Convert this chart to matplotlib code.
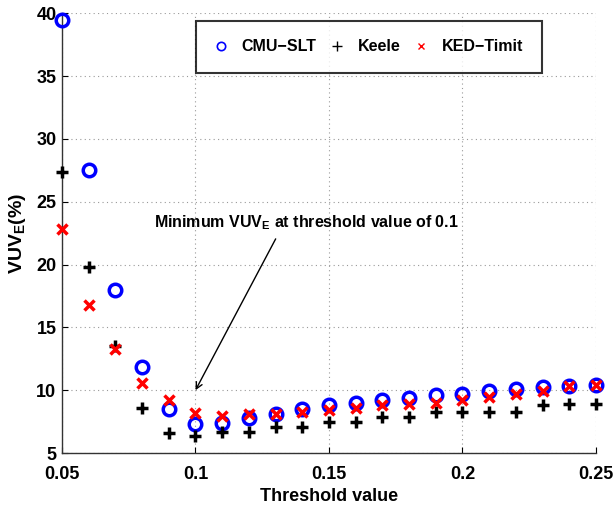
import matplotlib
matplotlib.use('Agg')
import matplotlib.pyplot as plt
from matplotlib.lines import Line2D

plt.rcParams['font.family'] = ['Liberation Sans', 'DejaVu Sans']
plt.rcParams['font.weight'] = 'bold'
plt.rcParams['mathtext.fontset'] = 'custom'
plt.rcParams['mathtext.bf'] = 'Liberation Sans:bold'
plt.rcParams['mathtext.rm'] = 'Liberation Sans:bold'
plt.rcParams['mathtext.default'] = 'bf'

# threshold values
thresholds = [0.05, 0.06, 0.07, 0.08, 0.09, 0.10, 0.11, 0.12, 0.13, 0.14, 0.15,
              0.16, 0.17, 0.18, 0.19, 0.20, 0.21, 0.22, 0.23, 0.24, 0.25]

cmu_slt = [39.5, 27.5, 18.0, 11.85, 8.5, 7.3, 7.4, 7.75, 8.1, 8.5, 8.8,
           9.0, 9.2, 9.4, 9.6, 9.7, 9.9, 10.1, 10.25, 10.3, 10.45]
keele = [27.4, 19.8, 13.5, 8.55, 6.57, 6.35, 6.7, 6.7, 7.1, 7.1, 7.5,
         7.5, 7.9, 7.9, 8.3, 8.3, 8.3, 8.3, 8.8, 8.9, 8.9]
ked_timit = [22.8, 16.8, 13.3, 10.6, 9.2, 8.2, 7.95, 8.1, 8.1, 8.25, 8.4,
             8.55, 8.8, 8.9, 9.0, 9.2, 9.45, 9.7, 9.95, 10.3, 10.45]

fig = plt.figure(figsize=(6.15, 5.09), dpi=100)
ax = fig.add_axes([0.1008, 0.110, 0.8683, 0.864])

ax.plot(thresholds, cmu_slt, 'o', color='blue', markerfacecolor='none',
        markersize=9, markeredgewidth=2.5, clip_on=False, zorder=3)
ax.plot(thresholds, keele, '+', color='black', markersize=9,
        markeredgewidth=2.5, clip_on=False, zorder=3)
ax.plot(thresholds, ked_timit, 'x', color='red', markersize=7,
        markeredgewidth=2.5, clip_on=False, zorder=3)

ax.set_xlim(0.05, 0.25)
ax.set_ylim(5, 40)
ax.set_xticks([0.05, 0.1, 0.15, 0.2, 0.25])
ax.set_xticklabels(['0.05', '0.1', '0.15', '0.2', '0.25'])
ax.set_yticks(range(5, 41, 5))
ax.tick_params(direction='in', labelsize=13, length=4)
ax.tick_params(axis='x', pad=9)
ax.tick_params(axis='y', pad=4)
ax.grid(True, linestyle=(0, (1, 3)), color='#999999', linewidth=0.8)
for sp in ax.spines.values():
    sp.set_linewidth(1.0)
    sp.set_color('#333333')
ax.spines['top'].set_visible(False)
ax.spines['right'].set_visible(False)

ax.set_xlabel('Threshold value', fontsize=13, fontweight='bold', labelpad=4)
ax.set_ylabel('VUV$_E$(%)', fontsize=14, fontweight='bold', labelpad=6)

ax.annotate('Minimum VUV$_E$ at threshold value of 0.1',
            xy=(0.1, 10), xytext=(0.0845, 23.3), ha='left', va='center',
            fontsize=11.5, fontweight='bold',
            arrowprops=dict(arrowstyle='->', color='black', lw=1,
                            relpos=(0.41, 0), shrinkA=3, shrinkB=0))

handles = [
    Line2D([], [], linestyle='none', marker='o', color='blue',
           markerfacecolor='none', markersize=6, markeredgewidth=1.2),
    Line2D([], [], linestyle='none', marker='+', color='black',
           markersize=7, markeredgewidth=1.0),
    Line2D([], [], linestyle='none', marker='x', color='red',
           markersize=5, markeredgewidth=1.0),
]
labels = ['CMU\u2212SLT', 'Keele', 'KED\u2212Timit']
leg = ax.legend(handles, labels, ncol=3, loc='upper left',
                bbox_to_anchor=(0.251, 0.9825), fontsize=11.5, frameon=True,
                fancybox=False, borderpad=1.15, handlelength=0.8,
                handletextpad=0.9, columnspacing=0.9, borderaxespad=0)
leg.get_frame().set_edgecolor('black')
leg.get_frame().set_linewidth(1.5)

fig.savefig('out.png', dpi=100)
